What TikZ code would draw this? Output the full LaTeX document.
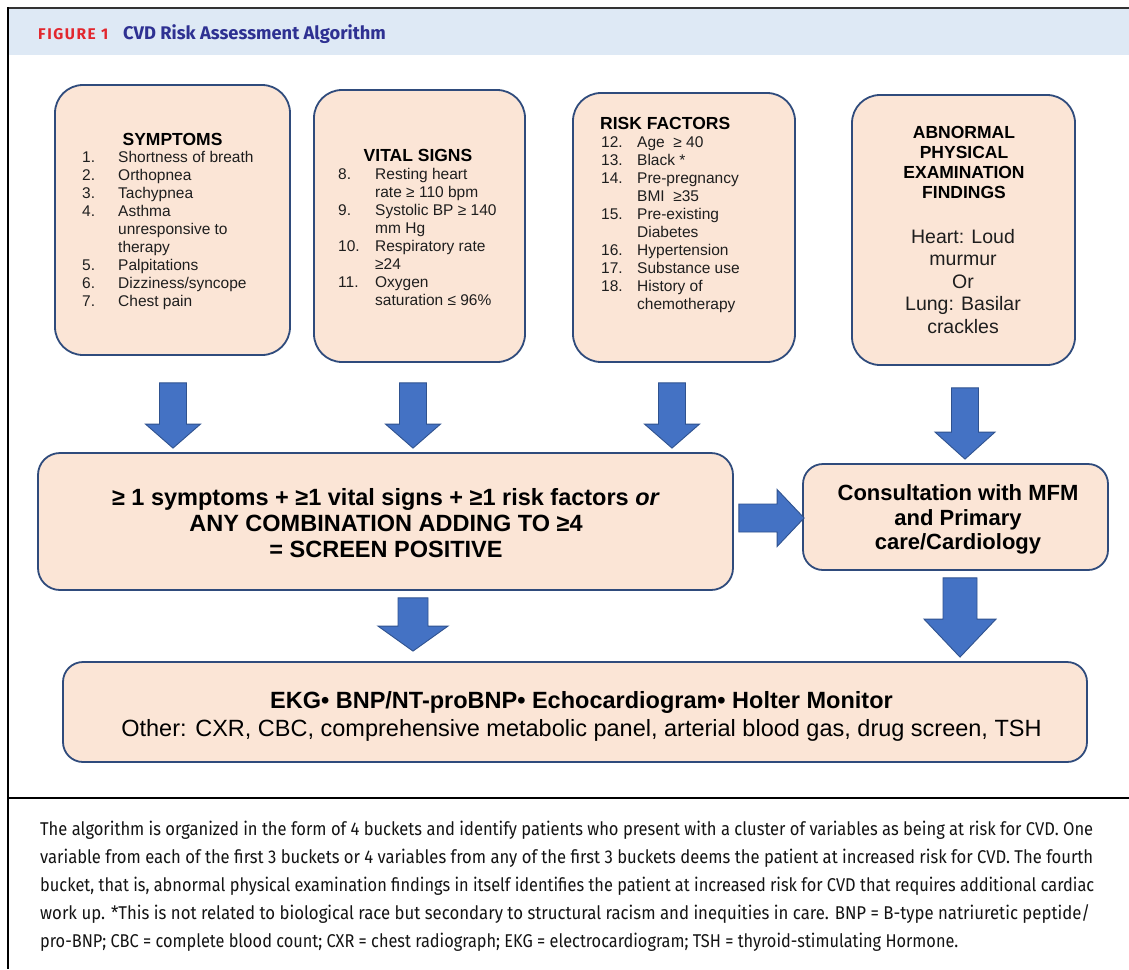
\documentclass[tikz,border=0pt]{standalone}
\usepackage{fontspec}
\usepackage{graphicx}
\setmainfont{Liberation Sans}
\newfontfamily\fira{Fira Sans}
\usetikzlibrary{calc}
\definecolor{peach}{HTML}{FBE5D6}
\definecolor{boxedge}{HTML}{2F4B7C}
\definecolor{arrfill}{HTML}{4472C4}
\definecolor{arredge}{HTML}{2F528F}
\definecolor{band}{HTML}{DEE9F5}
\definecolor{figred}{HTML}{E2272E}
\definecolor{titleblue}{HTML}{2E3192}
\definecolor{txt}{HTML}{1E1E1E}
\newcommand\blkdown[8]{\path[blockarrow] let \p1=(#1.south), \p2=(#2.north) in
 (#3pt-#6pt,\y1-#4pt) -- (#3pt+#6pt,\y1-#4pt) -- (#3pt+#6pt,\y2+#5pt+#8pt) -- (#3pt+#7pt,\y2+#5pt+#8pt) -- (#3pt,\y2+#5pt) -- (#3pt-#7pt,\y2+#5pt+#8pt) -- (#3pt-#6pt,\y2+#5pt+#8pt) -- cycle;}
\newcommand\blkright[8]{\path[blockarrow] let \p1=(#1.east), \p2=(#2.west) in
 (\x1+#4pt,-#3pt+#6pt) -- (\x2-#5pt-#8pt,-#3pt+#6pt) -- (\x2-#5pt-#8pt,-#3pt+#7pt) -- (\x2-#5pt,-#3pt) -- (\x2-#5pt-#8pt,-#3pt-#7pt) -- (\x2-#5pt-#8pt,-#3pt-#6pt) -- (\x1+#4pt,-#3pt-#6pt) -- cycle;}
\tikzset{
 box/.style={draw=boxedge, line width=1.8pt, fill=peach, rounded corners=28pt, inner sep=0pt},
 blockarrow/.style={fill=arrfill, draw=arredge, line width=0.9pt, line join=miter},
 hd/.style={font=\fontsize{17.5}{20}\selectfont\bfseries, text=black, inner sep=0pt},
 lst/.style={font=\fontsize{15.5}{18}\selectfont, text=txt, inner sep=0pt},
 captext/.style={font=\fira\fontsize{18.5}{18.5}\selectfont, text=black!92, inner sep=0pt, anchor=base west},
}
\begin{document}
\begin{tikzpicture}[x=1pt,y=-1pt]
\useasboundingbox (0,0) rectangle (1129,969);
\fill[white] (0,0) rectangle (1129,969);
% frame and header
\fill[band] (9,9) rectangle (1129,55);
\draw[line width=2.5pt, black!80] (7,8) -- (1129,8);
\draw[line width=1.5pt] (8,7) -- (8,969);
\draw[line width=1.5pt] (8,798) -- (1129,798);
\node[anchor=base west, inner sep=0, text=figred, font=\fira\bfseries\fontsize{15.5}{15.5}\selectfont\addfontfeatures{LetterSpace=10}] (fig) at (38,39.5) {FIGURE 1};
\node[anchor=base west, inner sep=0, text=titleblue, font=\fira\bfseries\fontsize{18.3}{18.3}\selectfont] (title) at (123,39.5) {CVD Risk Assessment Algorithm};
% boxes
\node[box, minimum width=235pt, minimum height=270pt] (sym) at (172.5,220) {};
\node[box, minimum width=211pt, minimum height=272pt] (vit) at (419.5,226) {};
\node[box, minimum width=222pt, minimum height=269pt] (risk) at (684,227.5) {};
\node[box, minimum width=223pt, minimum height=270pt] (abn) at (963.5,230) {};
\node[box, rounded corners=22pt, minimum width=695pt, minimum height=137pt] (big) at (385.5,521.5) {};
\node[box, rounded corners=20pt, minimum width=305pt, minimum height=106pt] (cons) at (955.5,517) {};
\node[box, rounded corners=20pt, minimum width=1024pt, minimum height=100pt] (tests) at (575,712) {};
% symptoms
\node[hd, anchor=base] (symh) at (172.5,145) {SYMPTOMS};
\node[lst, anchor=base west] (syml) at (82,162) {\begin{tabular}[t]{@{}p{36pt}@{}l@{}}
1. & Shortness of breath\\
2. & Orthopnea\\
3. & Tachypnea\\
4. & Asthma\\
 & unresponsive to\\
 & therapy\\
5. & Palpitations\\
6. & Dizziness/syncope\\
7. & Chest pain
\end{tabular}};
% vital signs
\node[hd, anchor=base] (vith) at (418,161) {VITAL SIGNS};
\node[lst, anchor=base west] (vitl) at (338,179.5) {\begin{tabular}[t]{@{}p{37pt}@{}l@{}}
8. & Resting heart\\
 & rate ≥ 110 bpm\\
9. & Systolic BP ≥ 140\\
 & mm Hg\\
10. & Respiratory rate\\
 & ≥24\\
11. & Oxygen\\
 & saturation ≤ 96\%
\end{tabular}};
% risk factors
\node[hd, anchor=base west] (riskh) at (600,129) {RISK FACTORS};
\node[lst, anchor=base west] (riskl) at (601,147.5) {\begin{tabular}[t]{@{}p{36pt}@{}l@{}}
12. & Age~ ≥ 40\\
13. & Black *\\
14. & Pre-pregnancy\\
 & BMI~ ≥35\\
15. & Pre-existing\\
 & Diabetes\\
16. & Hypertension\\
17. & Substance use\\
18. & History of\\
 & chemotherapy
\end{tabular}};
% abnormal findings
\node[hd, anchor=base] (abnh) at (964,138) {\begin{tabular}[t]{@{}c@{}}ABNORMAL\\ PHYSICAL\\ EXAMINATION\\ FINDINGS\end{tabular}};
\node[inner sep=0, anchor=base, text=txt, font=\fontsize{19.5}{22.5}\selectfont] (abnt) at (963,243) {\begin{tabular}[t]{@{}c@{}}Heart: Loud\\ murmur\\ Or\\ Lung: Basilar\\ crackles\end{tabular}};
% screen positive
\node[inner sep=0, anchor=base, text=black, font=\bfseries\fontsize{23.5}{26}\selectfont] (bigt) at (386,505) {\begin{tabular}[t]{@{}c@{}}≥ 1 symptoms + ≥1 vital signs + ≥1 risk factors \textit{or}\\ ANY COMBINATION ADDING TO ≥4\\ = SCREEN POSITIVE\end{tabular}};
% consultation
\node[inner sep=0, anchor=base, text=black, font=\bfseries\fontsize{22}{24.5}\selectfont] (const) at (958,500.5) {\begin{tabular}[t]{@{}c@{}}Consultation with MFM\\ and Primary\\ care/Cardiology\end{tabular}};
% tests
\node[inner sep=0, anchor=base, text=black, font=\fontsize{23.5}{28}\selectfont] (testt) at (581.5,708.5) {\begin{tabular}[t]{@{}c@{}}\textbf{EKG• BNP/NT-proBNP• Echocardiogram• Holter Monitor}\\ Other: CXR, CBC, comprehensive metabolic panel, arterial blood gas, drug screen, TSH\end{tabular}};
% block arrows
\blkdown{sym}{big}{173}{27}{4}{13.5}{27.5}{24}
\blkdown{vit}{big}{413}{20}{4}{13.5}{27.5}{24}
\blkdown{risk}{big}{672}{20}{4}{13.5}{27.5}{24}
\blkdown{abn}{cons}{965}{22}{4}{13.5}{30}{27}
\blkright{big}{cons}{518}{5}{-2}{14}{28.5}{27}
\blkdown{big}{tests}{413}{7}{10}{15}{35}{25}
\blkdown{cons}{tests}{960}{7}{4}{17}{36}{38}
% caption
\node[captext] (c1) at (40,835.5) {\resizebox{1053pt}{\height}{The algorithm is organized in the form of 4 buckets and identify patients who present with a cluster of variables as being at risk for CVD. One}};
\node[captext] (c2) at (40,863.5) {\resizebox{1053pt}{\height}{variable from each of the first 3 buckets or 4 variables from any of the first 3 buckets deems the patient at increased risk for CVD. The fourth}};
\node[captext] (c3) at (40,891.5) {\resizebox{1054pt}{\height}{bucket, that is, abnormal physical examination findings in itself identifies the patient at increased risk for CVD that requires additional cardiac}};
\node[captext] (c4) at (40,919.5) {\resizebox{1050pt}{\height}{work up. *This is not related to biological race but secondary to structural racism and inequities in care. BNP = B-type natriuretic peptide/}};
\node[captext] (c5) at (40,947.5) {\resizebox{918pt}{\height}{pro-BNP; CBC = complete blood count; CXR = chest radiograph; EKG = electrocardiogram; TSH = thyroid-stimulating Hormone.}};
\end{tikzpicture}
\end{document}
